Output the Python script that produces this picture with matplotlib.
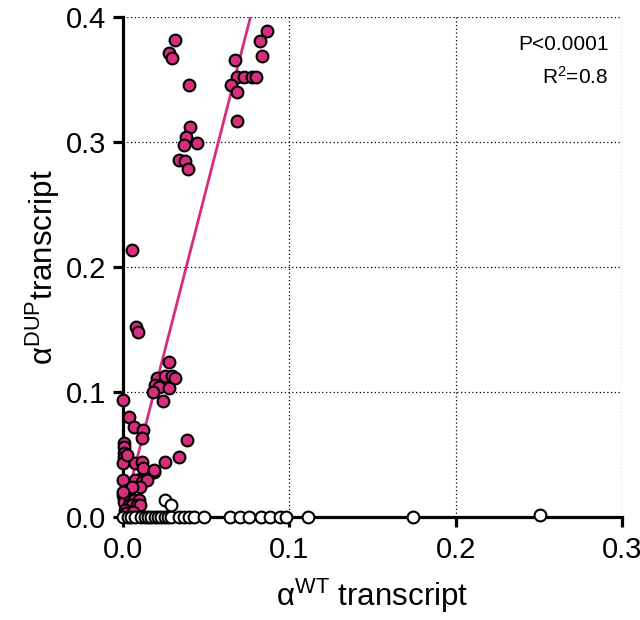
import numpy as np
import matplotlib.pyplot as plt

plt.rcParams['font.family'] = ['Liberation Sans', 'DejaVu Sans']
plt.rcParams['mathtext.fontset'] = 'custom'
plt.rcParams['mathtext.rm'] = 'Liberation Sans'
plt.rcParams['mathtext.it'] = 'Liberation Sans:italic'

magenta = '#D62D7D'

# samples carrying the duplication (alpha WT vs alpha DUP transcript)
dup_x = [0.0312, 0.0278, 0.0292, 0.0398, 0.0402, 0.0376, 0.0366, 0.0442, 0.0336, 0.0372,
         0.0388, 0.0675, 0.0687, 0.0729, 0.0775, 0.0797, 0.0649, 0.0687, 0.0687, 0.0863,
         0.0825, 0.0833,
         0.0052, 0.0078, 0.0092, 0.0274, 0.0204, 0.0254, 0.0294, 0.0314, 0.0194, 0.0214,
         0.0180, 0.0278, 0.0238,
         0.0, 0.0038, 0.0064, 0.0118, 0.0114, 0.0384, 0.0334, 0.0250, 0.0004, 0.0004,
         0.0004, 0.0004, 0.0, 0.0074, 0.0114, 0.0124, 0.0134, 0.0184, 0.0154, 0.0090,
         0.0074, 0.0, 0.0114, 0.0144, 0.0102, 0.0, 0.0004, 0.0004, 0.0044, 0.0064,
         0.0094, 0.0034, 0.0054, 0.0084, 0.0104, 0.0014, 0.0024, 0.0054, 0.0026, 0.0122,
         0.0188, 0.0, 0.002, 0.006]
dup_y = [0.382, 0.371, 0.367, 0.346, 0.312, 0.304, 0.298, 0.299, 0.286, 0.285,
         0.278, 0.366, 0.352, 0.352, 0.352, 0.352, 0.346, 0.340, 0.317, 0.389,
         0.381, 0.369,
         0.214, 0.152, 0.148, 0.124, 0.111, 0.113, 0.113, 0.111, 0.1056, 0.104,
         0.100, 0.103, 0.093,
         0.0936, 0.080, 0.072, 0.070, 0.063, 0.062, 0.048, 0.044, 0.059, 0.056,
         0.051, 0.048, 0.043, 0.043, 0.0443, 0.0376, 0.036, 0.036, 0.035, 0.030,
         0.0296, 0.0296, 0.028, 0.0296, 0.0243, 0.0176, 0.015, 0.012, 0.015, 0.0136,
         0.0136, 0.0096, 0.0096, 0.0096, 0.0096, 0.0056, 0.0216, 0.024, 0.0496, 0.039,
         0.0376, 0.020, 0.003, 0.004]

# samples without the duplication
wt_x = [0.0, 0.003, 0.005, 0.007, 0.0106, 0.013, 0.015, 0.017, 0.019, 0.021, 0.023,
        0.025, 0.027, 0.029, 0.0334, 0.0364, 0.0394, 0.0424, 0.0484, 0.0643, 0.0703,
        0.0759, 0.0827, 0.0883, 0.0943, 0.0979, 0.1113, 0.1744, 0.2505, 0.0252, 0.029]
wt_y = [0.0, 0.0, 0.0, 0.0, 0.0, 0.0, 0.0, 0.0, 0.0, 0.0, 0.0,
        0.0, 0.0, 0.0, 0.0, 0.0, 0.0, 0.0, 0.0, 0.0, 0.0,
        0.0, 0.0, 0.0, 0.0, 0.0, 0.0, 0.0, 0.0016, 0.0135, 0.0095]

# linear fit on the duplication samples
fit_slope = 5.18
fit_intercept = 0.003

fig = plt.figure(figsize=(6.4, 6.2), dpi=100)
ax = fig.add_axes([123 / 640, 103 / 620, 499 / 640, 500 / 620])

xf = np.array([0.0, 0.09])
ax.plot(xf, fit_slope * xf + fit_intercept, color=magenta, lw=2.0, zorder=2)

ax.scatter(dup_x, dup_y, s=72, facecolor=magenta, edgecolor='black', linewidth=1.5,
           zorder=3, clip_on=False)
ax.scatter(wt_x, wt_y, s=72, facecolor='white', edgecolor='black', linewidth=1.5,
           zorder=4, clip_on=False)

ax.set_xlim(0, 0.3)
ax.set_ylim(0, 0.4)
ax.set_xticks([0.0, 0.1, 0.2, 0.3])
ax.set_yticks([0.0, 0.1, 0.2, 0.3, 0.4])
ax.set_xticklabels(['0.0', '0.1', '0.2', '0.3'])
ax.set_yticklabels(['0.0', '0.1', '0.2', '0.3', '0.4'])
ax.grid(True, linestyle=(0, (1, 2)), color='black', lw=0.9)
ax.set_axisbelow(True)

for side in ['top', 'right']:
    ax.spines[side].set_visible(False)
for side in ['left', 'bottom']:
    ax.spines[side].set_linewidth(2.3)
ax.tick_params(width=2.3, length=7, labelsize=21)
ax.tick_params(axis='x', pad=7)
ax.tick_params(axis='y', pad=5)

ax.set_xlabel(r'α$^{\mathrm{WT}}$ transcript', fontsize=22.5, labelpad=9)
ax.set_ylabel(r'α$^{\mathrm{DUP}}$transcript', fontsize=22.5, labelpad=3)

ax.text(0.292, 0.378, 'P<0.0001', ha='right', va='center', fontsize=15)
ax.text(0.292, 0.352, r'R$^{2}$=0.8', ha='right', va='center', fontsize=15)

plt.savefig('out.png', dpi=100)
